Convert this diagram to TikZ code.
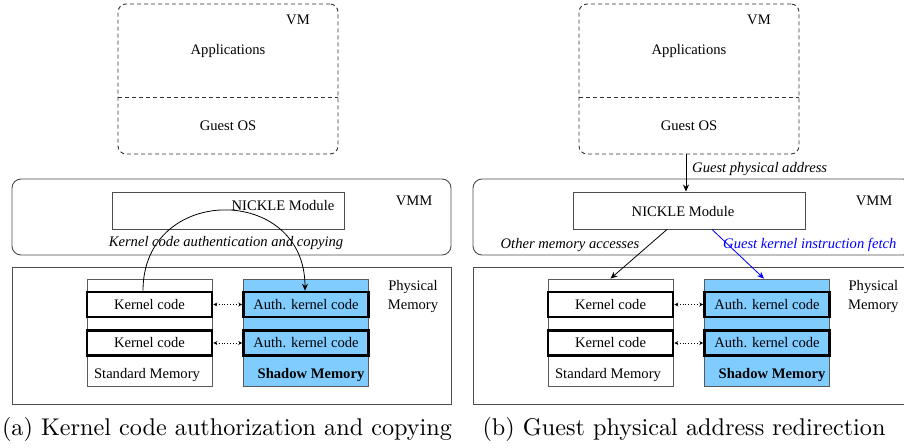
\documentclass[tikz,border=0pt]{standalone}
\usepackage{fontspec}
\newfontfamily\tnr{Liberation Serif}
\newfontfamily\capfont{lmroman10-regular.otf}
\usetikzlibrary{arrows.meta,calc}
\definecolor{shadowblue}{RGB}{128,204,255}
\begin{document}
\begin{tikzpicture}[x=1pt,y=-1pt,
  every node/.style={font=\tnr\fontsize{14.6}{19}\selectfont, inner sep=0pt},
  vmbox/.style={draw=black!80, line width=0.9pt, dash pattern=on 4pt off 3pt, rounded corners=8pt, minimum width=220pt, minimum height=150pt},
  vmpart/.style={minimum width=220pt},
  divider/.style={draw=black!80, line width=0.9pt, dash pattern=on 4pt off 3pt},
  layerbox/.style={draw=black!70, line width=0.9pt, minimum width=439pt},
  modbox/.style={draw=black!70, line width=0.9pt, minimum width=232pt, minimum height=37pt},
  column/.style={draw=black!65, line width=0.8pt, minimum width=125pt, minimum height=107pt},
  shadowcol/.style={column, fill=shadowblue},
  codebox/.style={draw=black, line width=2.6pt, minimum width=125pt, minimum height=25pt},
  authbox/.style={codebox, fill=shadowblue},
  tip/.style={line width=0.8pt, -{Stealth[length=7pt,width=6pt]}},
  link/.style={dotted, line width=0.9pt, {Stealth[length=4pt,width=4pt]}-{Stealth[length=4pt,width=4pt]}},
  note/.style={font=\tnr\itshape\fontsize{14.6}{19}\selectfont},
  captext/.style={font=\capfont\fontsize{24.2}{29}\selectfont},
]
\useasboundingbox (0,0) rectangle (904,447);
\clip (0,0) rectangle (904,447);

% ================= Panel (a) =================
\node[vmbox] (vmA) at (228,79) {};
\node[vmpart, minimum height=93pt] (appA) at (228,50.5) {Applications};
\node[vmpart, minimum height=57pt] (osA) at (228,125.5) {Guest OS};
\draw[divider] (appA.south west) -- (appA.south east);
\node (vmlA) at (298,20) {VM};

\node[layerbox, minimum height=76pt, rounded corners=9pt] (vmmA) at (231.5,217) {};
\node[modbox] (nickA) at (228,210.5) {};
\node (nickAt) at (283,206) {NICKLE Module};
\node (vmmlA) at (414,201) {VMM};
\node[note] (authA) at (226,243) {Kernel code authentication and copying};

\node[layerbox, minimum height=137pt] (physA) at (231.5,335.5) {};
\node[align=center] (physlA) at (413,296.5) {Physical\\Memory};
\node[column] (stdA) at (149.5,332.5) {};
\node[shadowcol] (shA) at (306,332.5) {};
\node[codebox] (kA1) at (149.5,304.5) {Kernel code};
\node[codebox] (kA2) at (149.5,343) {Kernel code};
\node[authbox] (aA1) at (306,304.5) {Auth. kernel code};
\node[authbox] (aA2) at (306,343) {Auth. kernel code};
\node (stdlA) at (147,375) {Standard Memory};
\node[font=\tnr\bfseries\fontsize{14.6}{19}\selectfont] (shlA) at (311,375) {Shadow Memory};
\draw[link] (kA1.east) -- (aA1.west);
\draw[link] (kA2.east) -- (aA2.west);
\draw[tip] ([xshift=-6.5pt]kA1.north) .. controls +(0,-107) and +(0,-107) .. ([xshift=-1pt]aA1.north);

\node[captext] (capA) at (227,429) {(a) Kernel code authorization and copying};

% ================= Panel (b) =================
\node[vmbox] (vmB) at (689,79) {};
\node[vmpart, minimum height=93pt] (appB) at (689,50.5) {Applications};
\node[vmpart, minimum height=57pt] (osB) at (689,125.5) {Guest OS};
\draw[divider] (appB.south west) -- (appB.south east);
\node (vmlB) at (759,20) {VM};

\node[layerbox, minimum height=76pt, rounded corners=9pt] (vmmB) at (692.5,217) {};
\node[modbox] (nickB) at (689,210.5) {};
\node (nickBt) at (683,212) {NICKLE Module};
\node (vmmlB) at (874,201) {VMM};
\node[note, anchor=west] (gpaB) at (692,169) {Guest physical address};
\node[note] (otherB) at (570,245) {Other memory accesses};
\node[note, text=blue, anchor=west] (fetchB) at (723,245) {Guest kernel instruction fetch};

\node[layerbox, minimum height=137pt] (physB) at (692.5,335.5) {};
\node[align=center, anchor=west] (physlB) at (848,296.5) {Physical\\Memory};
\node[column] (stdB) at (610.5,332.5) {};
\node[shadowcol] (shB) at (767,332.5) {};
\node[codebox] (kB1) at (610.5,304.5) {Kernel code};
\node[codebox] (kB2) at (610.5,343) {Kernel code};
\node[authbox] (aB1) at (767,304.5) {Auth. kernel code};
\node[authbox] (aB2) at (767,343) {Auth. kernel code};
\node (stdlB) at (608,375) {Standard Memory};
\node[font=\tnr\bfseries\fontsize{14.6}{19}\selectfont] (shlB) at (772,375) {Shadow Memory};
\draw[link] (kB1.east) -- (aB1.west);
\draw[link] (kB2.east) -- (aB2.west);

\draw[tip] ([xshift=-3pt]vmB.south) -- ([xshift=-3pt]nickB.north);
\draw[tip] ([xshift=-22pt]nickB.south) -- (stdB.north);
\draw[tip, draw=blue, fill=blue] ([xshift=23pt]nickB.south) -- ([xshift=-3pt]shB.north);

\node[captext] (capB) at (684,429) {(b) Guest physical address redirection};
\end{tikzpicture}
\end{document}
